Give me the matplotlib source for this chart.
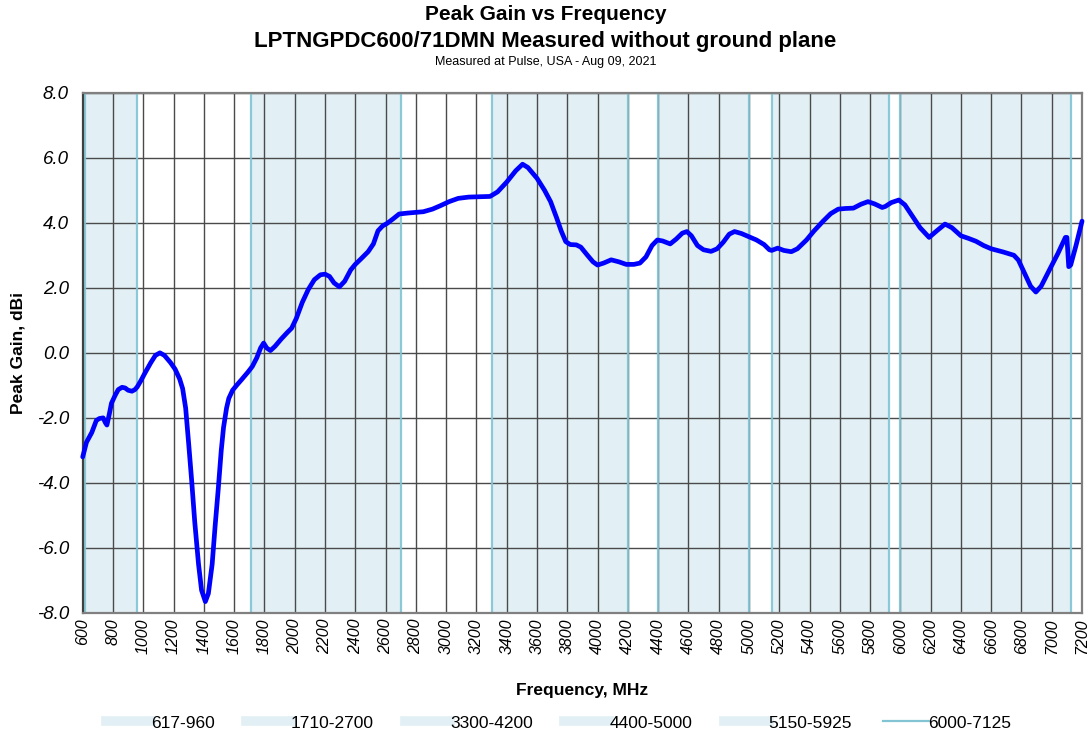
import matplotlib
matplotlib.use("Agg")
import matplotlib.pyplot as plt
from matplotlib.lines import Line2D

plt.rcParams["font.family"] = ["Liberation Sans", "DejaVu Sans"]

# measured peak gain
freq_mhz = [
    600, 625, 660, 690, 710, 735, 750, 760, 775, 790, 815, 835, 860, 880, 900, 925, 945, 960,
    985, 1010, 1050, 1080, 1110, 1140, 1180, 1210, 1240, 1260, 1280, 1300, 1320, 1340, 1365,
    1385, 1410, 1430, 1455, 1475, 1495, 1515, 1530, 1550, 1565, 1590, 1620, 1650, 1690, 1720,
    1750, 1775, 1795, 1815, 1840, 1870, 1910, 1950, 1980, 2010, 2050, 2090, 2130, 2170, 2200,
    2230, 2260, 2295, 2330, 2370, 2400, 2440, 2485, 2520, 2550, 2580, 2610, 2650, 2690, 2750,
    2850, 2910, 2960, 3020, 3080, 3150, 3220, 3290, 3340, 3400, 3460, 3505, 3540, 3600, 3650,
    3690, 3730, 3760, 3790, 3820, 3860, 3890, 3930, 3970, 4000, 4040, 4090, 4140, 4190, 4240,
    4280, 4320, 4360, 4395, 4430, 4480, 4520, 4560, 4590, 4620, 4660, 4700, 4750, 4790, 4830,
    4870, 4905, 4950, 5000, 5050, 5100, 5135, 5150, 5190, 5230, 5280, 5320, 5380, 5430, 5490,
    5540, 5590, 5640, 5690, 5740, 5786, 5830, 5880, 5900, 5940, 5990, 6030, 6080, 6130, 6190,
    6240, 6295, 6340, 6400, 6450, 6500, 6550, 6600, 6680, 6750, 6780, 6820, 6860, 6895, 6930,
    6990, 7040, 7090, 7100, 7112, 7125, 7160, 7200,
]
gain_dbi = [
    -3.2, -2.75, -2.45, -2.08, -2.02, -2.0, -2.15, -2.22, -1.9, -1.55, -1.3, -1.13, -1.06, -1.08,
    -1.15, -1.18, -1.13, -1.05, -0.85, -0.63, -0.3, -0.08, 0.0, -0.08, -0.3, -0.5, -0.8, -1.1,
    -1.7, -2.8, -3.95, -5.2, -6.5, -7.3, -7.65, -7.4, -6.5, -5.3, -4.2, -3.0, -2.3, -1.7, -1.4,
    -1.15, -0.98, -0.82, -0.6, -0.42, -0.15, 0.15, 0.3, 0.15, 0.07, 0.2, 0.42, 0.62, 0.76, 1.05,
    1.55, 1.95, 2.25, 2.4, 2.42, 2.35, 2.15, 2.03, 2.2, 2.55, 2.72, 2.9, 3.11, 3.35, 3.75, 3.9,
    3.98, 4.12, 4.27, 4.3, 4.34, 4.42, 4.52, 4.65, 4.75, 4.79, 4.8, 4.81, 4.95, 5.25, 5.6, 5.8,
    5.7, 5.37, 5.0, 4.65, 4.15, 3.75, 3.42, 3.33, 3.32, 3.25, 3.02, 2.8, 2.7, 2.76, 2.86, 2.8,
    2.72, 2.72, 2.76, 2.95, 3.3, 3.47, 3.44, 3.35, 3.5, 3.68, 3.73, 3.6, 3.3, 3.17, 3.12, 3.2,
    3.4, 3.65, 3.73, 3.67, 3.57, 3.47, 3.33, 3.17, 3.15, 3.22, 3.15, 3.11, 3.2, 3.47, 3.75, 4.05,
    4.28, 4.42, 4.44, 4.45, 4.57, 4.65, 4.58, 4.47, 4.5, 4.62, 4.7, 4.55, 4.2, 3.85, 3.55, 3.75,
    3.96, 3.85, 3.6, 3.52, 3.43, 3.3, 3.2, 3.1, 3.0, 2.85, 2.45, 2.05, 1.87, 2.05, 2.6, 3.05,
    3.55, 3.55, 2.65, 2.7, 3.3, 4.05,
]

band_lo = [617, 1710, 3300, 4400, 5150, 6000]
band_hi = [960, 2700, 4200, 5000, 5925, 7125]
band_names = ["617-960", "1710-2700", "3300-4200", "4400-5000", "5150-5925", "6000-7125"]

x_ticks = list(range(600, 7201, 200))
y_ticks = [-8, -6, -4, -2, 0, 2, 4, 6, 8]

FILL = "#e2f0f5"
EDGE = "#82c4d4"

fig = plt.figure(figsize=(10.91, 7.38), dpi=100)
ax = fig.add_axes([0.0758, 0.1694, 0.9160, 0.7050])

for lo, hi in zip(band_lo, band_hi):
    ax.axvspan(lo, hi, color=FILL, lw=0, zorder=0)

ax.set_xlim(600, 7200)
ax.set_ylim(-8, 8)
ax.set_xticks(x_ticks)
ax.set_yticks(y_ticks)
ax.grid(True, color="#4a4a4a", lw=1.0, zorder=1)
ax.set_axisbelow(True)

for lo, hi in zip(band_lo, band_hi):
    ax.axvline(lo, color=EDGE, lw=1.6, alpha=0.9, zorder=2)
    ax.axvline(hi, color=EDGE, lw=1.6, alpha=0.9, zorder=2)

ax.plot(freq_mhz, gain_dbi, color="#0000ff", lw=3.4, solid_joinstyle="round",
        solid_capstyle="round", zorder=4, clip_on=False)

ax.set_xticklabels([str(v) for v in x_ticks], rotation=90, fontstyle="italic", fontsize=11.5)
ax.set_yticklabels([f"{v:.1f}" for v in y_ticks], fontstyle="italic", fontsize=13.5)
ax.tick_params(axis="x", length=0, pad=4)
ax.tick_params(axis="y", length=0, pad=10)
for side in ["top", "right", "bottom", "left"]:
    ax.spines[side].set_color("#808080")
    ax.spines[side].set_linewidth(1.6)
ax.spines["left"].set_color("#404040")

ax.set_xlabel("Frequency, MHz", fontsize=12.5, fontweight="bold")
ax.xaxis.set_label_coords(0.5, -0.134)
ax.set_ylabel("Peak Gain, dBi", fontsize=12.5, fontweight="bold")
ax.yaxis.set_label_coords(-0.057, 0.5)

fig.text(0.5, 1 - 15 / 738, "Peak Gain vs Frequency", ha="center", va="center",
         fontsize=15, fontweight="bold")
fig.text(0.5, 1 - 42 / 738, "LPTNGPDC600/71DMN Measured without ground plane", ha="center",
         va="center", fontsize=16, fontweight="bold")
fig.text(0.5, 1 - 62 / 738, "Measured at Pulse, USA - Aug 09, 2021", ha="center", va="center",
         fontsize=9)

handles = [Line2D([], [], color=FILL, lw=7) for _ in band_names[:-1]]
handles.append(Line2D([], [], color=EDGE, lw=1.6))
fig.legend(handles, band_names, loc="center", bbox_to_anchor=(0.512, 1 - 723 / 738), ncol=6,
           frameon=False, fontsize=12.5, handlelength=2.6, handletextpad=0.0, columnspacing=1.8)

fig.savefig("out.png", dpi=100)
